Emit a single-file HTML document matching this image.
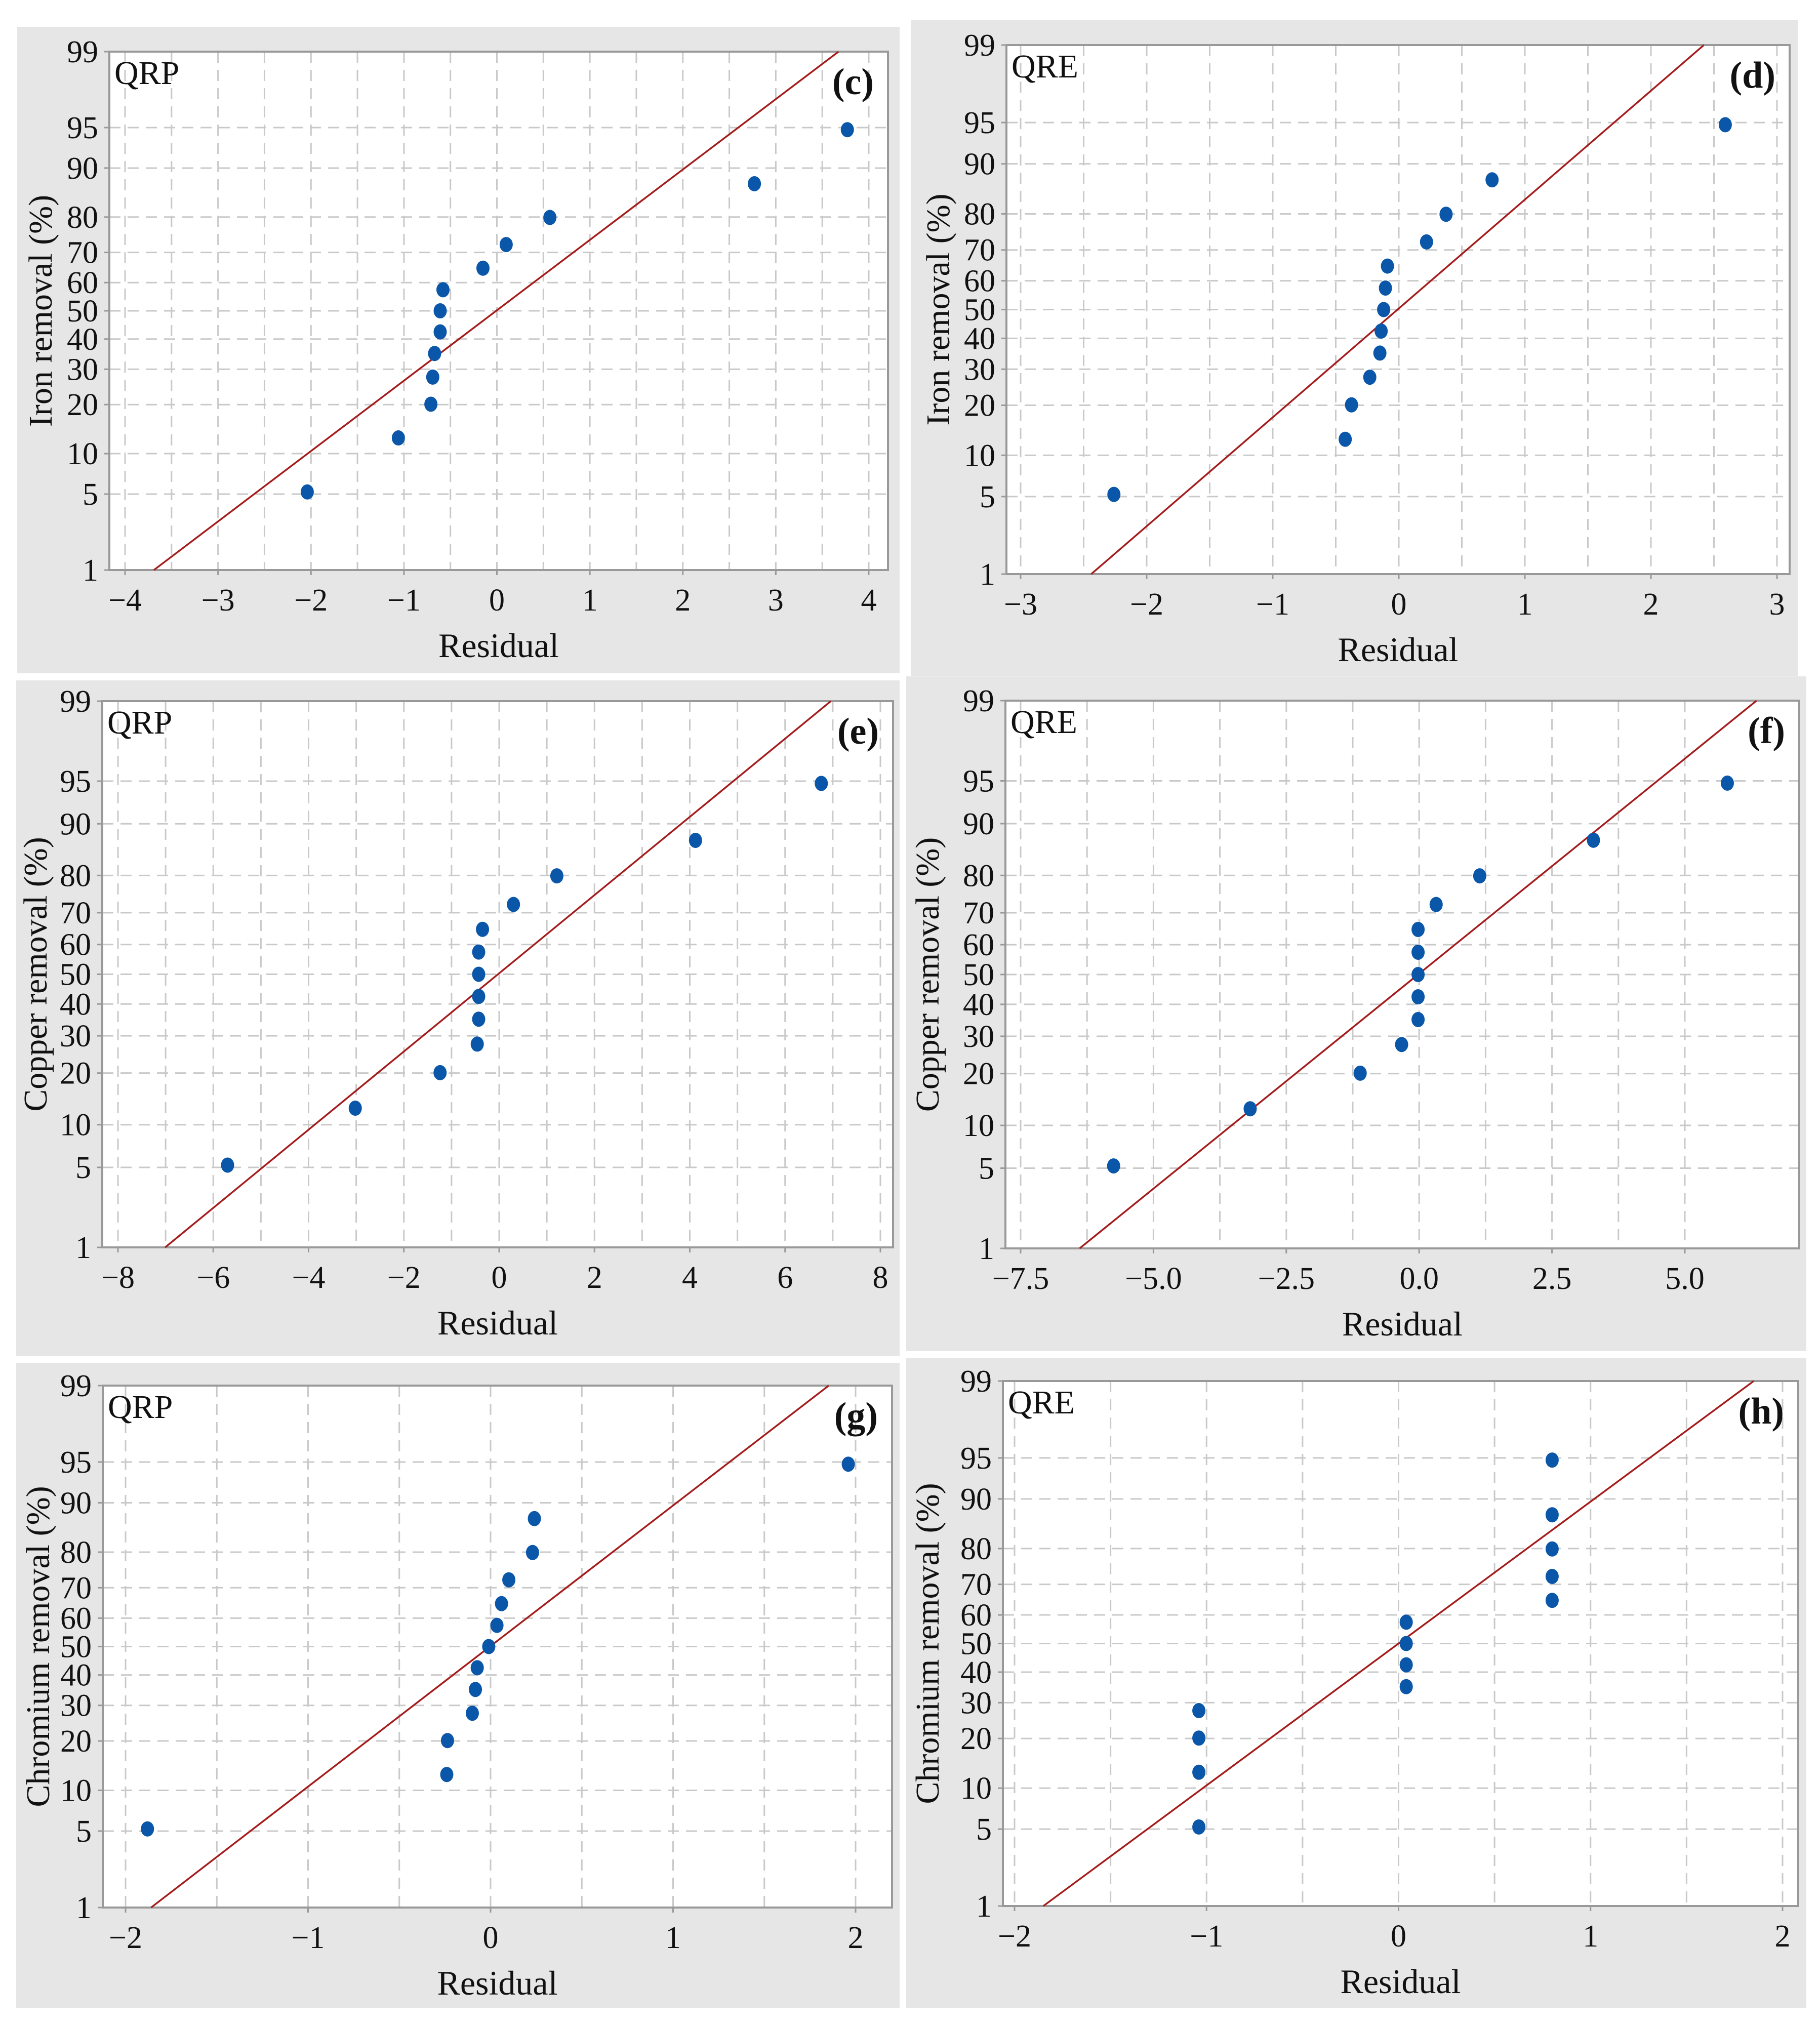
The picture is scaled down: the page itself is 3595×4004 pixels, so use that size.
<!DOCTYPE html>
<html><head><meta charset="utf-8"><style>
html,body{margin:0;padding:0;background:#fff}
svg{display:block}
svg text{font-family:"Liberation Serif","DejaVu Serif","Times New Roman",serif;fill:#111}
</style></head><body>
<svg id="fig" width="3595" height="4004" viewBox="0 0 3595 4004" xmlns="http://www.w3.org/2000/svg" font-family="Liberation Serif, DejaVu Serif, serif"></svg>
<script>
// ---- data ----
const percentiles = [5.2,12.7,20.1,27.6,35.1,42.5,50,57.5,64.9,72.4,79.9,87.3,94.8];
const yTicks = [1,5,10,20,30,40,50,60,70,80,90,95,99];
const resC = [-2.04,-1.06,-0.71,-0.69,-0.67,-0.61,-0.61,-0.58,-0.15,0.10,0.57,2.77,3.77];
const resD = [-2.26,-0.425,-0.375,-0.23,-0.15,-0.14,-0.12,-0.106,-0.09,0.22,0.375,0.74,2.59];
const resE = [-5.70,-3.02,-1.24,-0.46,-0.43,-0.43,-0.43,-0.43,-0.35,0.30,1.21,4.12,6.76];
const resF = [-5.75,-3.18,-1.11,-0.33,-0.02,-0.02,-0.02,-0.02,-0.02,0.32,1.14,3.28,5.80];
const resG = [-1.88,-0.24,-0.236,-0.10,-0.083,-0.073,-0.01,0.035,0.06,0.10,0.23,0.24,1.96];
const resH = [-1.04,-1.04,-1.04,-1.04,0.04,0.04,0.04,0.04,0.80,0.80,0.80,0.80,0.80];
const fitC = [-3.69,3.675], fitD = [-2.44,2.42], fitE = [-7.01,6.96];
const fitF = [-6.39,6.35], fitG = [-1.86,1.853], fitH = [-1.85,1.85];
const xTicksC = [-4,-3,-2,-1,0,1,2,3,4];
const xTicksD = [-3,-2,-1,0,1,2,3];
const xTicksE = [-8,-6,-4,-2,0,2,4,6,8];
const xTicksF = [-7.5,-5.0,-2.5,0.0,2.5,5.0];
const xTicksG = [-2,-1,0,1,2];
const xTicksH = [-2,-1,0,1,2];

const panels = [
 {id:'c',model:'QRP',ytitle:'Iron removal (%)',res:resC,fit:fitC,ticks:xTicksC,dec:0,grid:0.5,
  bg:[34,53,1777,1330],plot:[216,102,1754,1126],t0:247,t1:1716,ytx:80},
 {id:'d',model:'QRE',ytitle:'Iron removal (%)',res:resD,fit:fitD,ticks:xTicksD,dec:0,grid:0.5,
  bg:[1799,40,3551,1335],plot:[1988,89,3535,1134],t0:2016,t1:3510,ytx:1853},
 {id:'e',model:'QRP',ytitle:'Copper removal (%)',res:resE,fit:fitE,ticks:xTicksE,dec:0,grid:1,
  bg:[32,1344,1777,2679],plot:[202,1385,1764,2464],t0:233,t1:1739,ytx:70},
 {id:'f',model:'QRE',ytitle:'Copper removal (%)',res:resF,fit:fitF,ticks:xTicksF,dec:1,grid:1.25,
  bg:[1790,1336,3568,2669],plot:[1986,1384,3554,2466],t0:2016,t1:3328,ytx:1832},
 {id:'g',model:'QRP',ytitle:'Chromium removal (%)',res:resG,fit:fitG,ticks:xTicksG,dec:0,grid:0.5,
  bg:[32,2692,1777,3966],plot:[203,2737,1762,3768],t0:248,t1:1690,ytx:75},
 {id:'h',model:'QRE',ytitle:'Chromium removal (%)',res:resH,fit:fitH,ticks:xTicksH,dec:0,grid:0.5,
  bg:[1790,2682,3568,3966],plot:[1981,2728,3552,3765],t0:2004,t1:3521,ytx:1832}
];

const FONT='Liberation Serif, DejaVu Serif, Times New Roman, serif';
const NS='http://www.w3.org/2000/svg';
const svg=document.getElementById('fig');
function mk(tag,attrs,parent){const e=document.createElementNS(NS,tag);for(const k in attrs)e.setAttribute(k,attrs[k]);if(tag==='text')e.setAttribute('font-family',FONT);(parent||svg).appendChild(e);return e;}
function probit(p){
 const a=[-39.6968302866538,220.946098424521,-275.928510446969,138.357751867269,-30.6647980661472,2.50662827745924];
 const b=[-54.4760987982241,161.585836858041,-155.698979859887,66.8013118877197,-13.2806815528857];
 const c=[-0.00778489400243029,-0.322396458041136,-2.40075827716184,-2.54973253934373,4.37466414146497,2.93816398269878];
 const d=[0.00778469570904146,0.32246712907004,2.445134137143,3.75440866190742];
 let q,r;
 if(p<0.02425){q=Math.sqrt(-2*Math.log(p));return (((((c[0]*q+c[1])*q+c[2])*q+c[3])*q+c[4])*q+c[5])/((((d[0]*q+d[1])*q+d[2])*q+d[3])*q+1);}
 if(p>1-0.02425){q=Math.sqrt(-2*Math.log(1-p));return -(((((c[0]*q+c[1])*q+c[2])*q+c[3])*q+c[4])*q+c[5])/((((d[0]*q+d[1])*q+d[2])*q+d[3])*q+1);}
 q=p-0.5;r=q*q;return (((((a[0]*r+a[1])*r+a[2])*r+a[3])*r+a[4])*r+a[5])*q/(((((b[0]*r+b[1])*r+b[2])*r+b[3])*r+b[4])*r+1);
}

panels.forEach(P=>{
 const g=mk('g',{});
 
 
 const [bx0,by0,bx1,by1]=P.bg,[px0,py0,px1,py1]=P.plot;
 const bg=mk('rect',{x:bx0,y:by0,width:bx1-bx0,height:by1-by0,fill:'#e6e6e6'},g);
 
 
 const pa=mk('rect',{x:px0,y:py0,width:px1-px0,height:py1-py0,fill:'#fff'},g);
 
 
 const t0v=P.ticks[0],t1v=P.ticks[P.ticks.length-1];
 const xs=v=>P.t0+(v-t0v)/(t1v-t0v)*(P.t1-P.t0);
 const zTop=probit(0.99),zBot=probit(0.01);
 const ys=pc=>py0+(zTop-probit(pc/100))/(zTop-zBot)*(py1-py0);
 for(let v=t0v;v<=t1v+1e-9;v+=P.grid){
  const gl=mk('line',{x1:xs(v),x2:xs(v),y1:py0,y2:py1,stroke:'#c9c9c9','stroke-width':3,'stroke-dasharray':'22 14'},g);
  
  
 }
 yTicks.forEach(t=>{
  const y=ys(t);
  if(t!==1&&t!==99){
   const gl=mk('line',{x1:px0,x2:px1,y1:y,y2:y,stroke:'#c9c9c9','stroke-width':3,'stroke-dasharray':'22 14'},g);
   
   
  }
  mk('line',{x1:px0-10,x2:px0,y1:y,y2:y,stroke:'#999','stroke-width':3},g);
  const tl=mk('text',{x:px0-22,y:y+21,'font-size':62,'text-anchor':'end'},g);
  tl.textContent=t;
  
  
 });
 P.ticks.forEach(t=>{
  const x=xs(t);
  mk('line',{x1:x,x2:x,y1:py1,y2:py1+10,stroke:'#999','stroke-width':3},g);
  const tl=mk('text',{x:x,y:py1+80,'font-size':62,'text-anchor':'middle'},g);
  tl.textContent=(t<0?'\u2212':'')+Math.abs(t).toFixed(P.dec);
  
  
 });
 const fr=mk('rect',{x:px0,y:py0,width:px1-px0,height:py1-py0,fill:'none',stroke:'#999','stroke-width':4},g);
 
 
 const fl=mk('line',{x1:xs(P.fit[0]),y1:ys(1),x2:xs(P.fit[1]),y2:ys(99),stroke:'#a51c1c','stroke-width':3.5},g);
 
 
 P.res.forEach((r,i)=>{
  const pt=mk('ellipse',{cx:xs(r),cy:ys(percentiles[i]),rx:13,ry:15,fill:'#0a56a8'},g);
  
  
 });
 const m=mk('text',{x:px0+10,y:py0+64,'font-size':66},g);
 m.textContent=P.model;
 
 
 const pl=mk('text',{x:px1-28,y:py0+84,'font-size':74,'font-weight':'bold','text-anchor':'end'},g);
 pl.textContent='('+P.id+')';
 
 
 const xt=mk('text',{x:(px0+px1)/2,y:py1+172,'font-size':68,'text-anchor':'middle'},g);
 xt.textContent='Residual';
 
 
 const cy=(py0+py1)/2;
 const yt=mk('text',{x:P.ytx,y:cy,'font-size':66,'text-anchor':'middle',transform:'rotate(-90 '+P.ytx+' '+cy+')',dy:22},g);
 yt.textContent=P.ytitle;
 
 
});
</script>
</body></html>
